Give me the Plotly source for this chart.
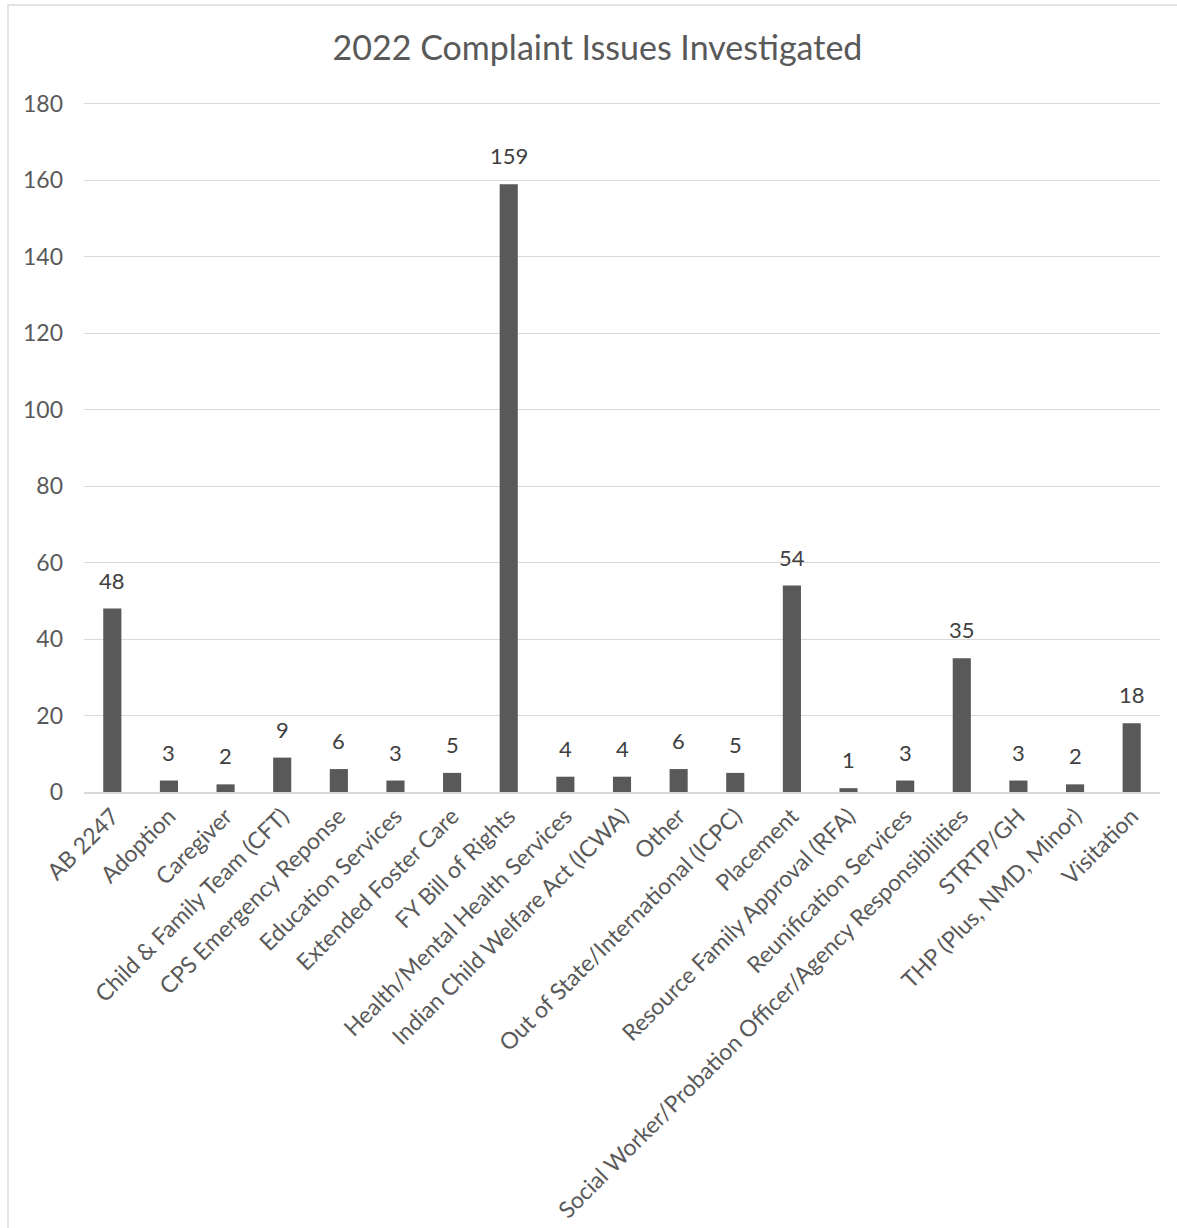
import plotly.graph_objects as go

categories = [
    "AB 2247", "Adoption", "Caregiver", "Child & Family Team (CFT)",
    "CPS Emergency Reponse", "Education Services", "Extended Foster Care",
    "FY Bill of Rights", "Health/Mental Health Services",
    "Indian Child Welfare Act (ICWA)", "Other",
    "Out of State/International (ICPC)", "Placement",
    "Resource Family Approval (RFA)", "Reunification Services",
    "Social Worker/Probation Officer/Agency Responsibilities",
    "STRTP/GH", "THP (Plus, NMD, Minor)", "Visitation",
]
values = [48, 3, 2, 9, 6, 3, 5, 159, 4, 4, 6, 5, 54, 1, 3, 35, 3, 2, 18]
y_ticks = [0, 20, 40, 60, 80, 100, 120, 140, 160, 180]
title_text = "2022 Complaint Issues Investigated"

FONT = "Lato"
W, H = 1177, 1228
ML, MR, MT, MB = 84, 17, 102, 436
PW = W - ML - MR
PH = H - MT - MB

fig = go.Figure()
fig.add_trace(go.Bar(
    x=categories, y=values,
    marker=dict(color="#595959", line=dict(width=0)),
    hoverinfo="x+y",
))

annotations = []
for c, v in zip(categories, values):
    annotations.append(dict(
        x=c, y=v, xref="x", yref="y", text=str(v), showarrow=False,
        yanchor="bottom", yshift=13,
        font=dict(family=FONT, size=22, color="#404040"),
    ))

# chart frame border (partially cropped in the reference)
x0 = (8 - ML) / PW
x1 = (W + 20 - ML) / PW
y_top = 1 + (MT - 5) / PH
y_bot = 1 - (H + 20 - MT) / PH

fig.update_layout(
    width=W, height=H,
    margin=dict(l=ML, r=MR, t=MT, b=MB),
    paper_bgcolor="white", plot_bgcolor="white",
    bargap=0.68,
    showlegend=False,
    title=dict(
        text=title_text, x=597.5 / W, xanchor="center", xref="container",
        y=1 - 48 / H, yanchor="middle",
        font=dict(family=FONT, size=34, color="#595959"),
    ),
    xaxis=dict(
        tickangle=-45, tickfont=dict(family=FONT, size=23, color="#595959"),
        showline=True, linecolor="#D9D9D9", linewidth=1.5,
        showgrid=False, ticks="", automargin=False,
    ),
    yaxis=dict(
        range=[0, 180.5], tickvals=y_ticks,
        tickfont=dict(family=FONT, size=23, color="#595959"),
        showgrid=True, gridcolor="#D9D9D9", gridwidth=1.3,
        zeroline=False, showline=False, ticks="", ticklabelstandoff=20,
        automargin=False,
    ),
    annotations=annotations,
    shapes=[dict(
        type="rect", xref="paper", yref="paper",
        x0=x0, x1=x1, y0=y_bot, y1=y_top,
        line=dict(color="#D9D9D9", width=1.5), fillcolor="rgba(0,0,0,0)",
        layer="below",
    )],
)

fig.write_html("out.html")
